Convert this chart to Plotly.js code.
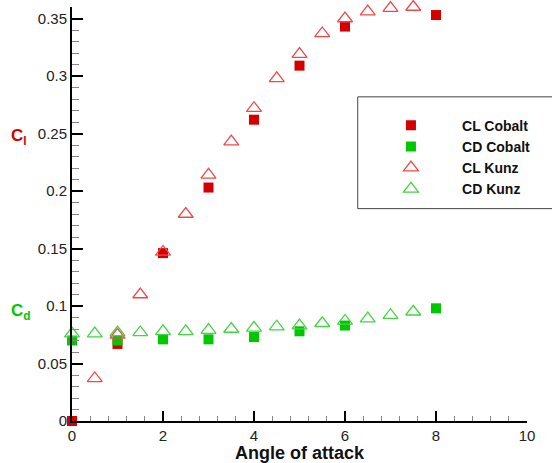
<!DOCTYPE html>
<html>
<head>
<meta charset="utf-8">
<script src="https://cdn.plot.ly/plotly-3.0.1.min.js"></script>
<style>html,body{margin:0;padding:0;background:#fff;}#chart{width:552px;height:463px;}</style>
</head>
<body>
<div id="chart"></div>
<script>
// Data
var clCobaltX = [0, 1, 2, 3, 4, 5, 6, 8];
var clCobaltY = [0, 0.067, 0.146, 0.203, 0.262, 0.309, 0.343, 0.353];
var cdCobaltX = [0, 1, 2, 3, 4, 5, 6, 8];
var cdCobaltY = [0.070, 0.070, 0.071, 0.071, 0.073, 0.078, 0.083, 0.098];
var clKunzX = [0.5, 1, 1.5, 2, 2.5, 3, 3.5, 4, 4.5, 5, 5.5, 6, 6.5, 7, 7.5];
var clKunzY = [0.037, 0.075, 0.110, 0.147, 0.180, 0.214, 0.243, 0.272, 0.298, 0.319, 0.337, 0.350, 0.356, 0.359, 0.360];
var cdKunzX = [0, 0.5, 1, 1.5, 2, 2.5, 3, 3.5, 4, 4.5, 5, 5.5, 6, 6.5, 7, 7.5];
var cdKunzY = [0.076, 0.076, 0.077, 0.077, 0.078, 0.078, 0.079, 0.080, 0.081, 0.082, 0.083, 0.085, 0.087, 0.089, 0.092, 0.095];
var seriesNames = ['CL Cobalt', 'CD Cobalt', 'CL Kunz', 'CD Kunz'];

var pad = '\u00A0\u00A0\u00A0\u00A0\u00A0\u00A0\u00A0\u00A0';
var traces = [
  {x: clCobaltX, y: clCobaltY, name: pad + seriesNames[0], mode: 'markers', type: 'scatter', cliponaxis: false,
   marker: {symbol: 'square', size: 10, color: '#d40000', line: {width: 0}}},
  {x: cdCobaltX, y: cdCobaltY, name: pad + seriesNames[1], mode: 'markers', type: 'scatter', cliponaxis: false,
   marker: {symbol: 'square', size: 10, color: '#00c800', line: {width: 0}}},
  {x: clKunzX, y: clKunzY, name: pad + seriesNames[2], mode: 'markers', type: 'scatter', cliponaxis: false,
   marker: {symbol: 'triangle-up-open', size: 13, color: '#ee4a4a', line: {width: 1.3}}},
  {x: cdKunzX, y: cdKunzY, name: pad + seriesNames[3], mode: 'markers', type: 'scatter', cliponaxis: false,
   marker: {symbol: 'triangle-up-open', size: 13, color: '#44d444', line: {width: 1.3}}}
];

var layout = {
  width: 552, height: 463,
  margin: {l: 72, r: 25, t: 7, b: 42},
  paper_bgcolor: '#fff', plot_bgcolor: '#fff',
  font: {family: 'Liberation Sans, Arial, sans-serif', size: 15, color: '#222'},
  showlegend: true,
  legend: {x: 0.701, y: 0.752, xanchor: 'left', yanchor: 'top', bgcolor: 'rgba(0,0,0,0)', borderwidth: 0,
           font: {family: 'Liberation Sans, Arial, sans-serif', size: 14, color: '#111', weight: 'bold'},
           tracegroupgap: 0, itemsizing: 'trace'},
  xaxis: {range: [0, 10], dtick: 2, tick0: 0, showgrid: false, zeroline: false,
          showline: true, linecolor: '#000', linewidth: 2,
          ticks: 'inside', ticklen: 10, tickwidth: 2, tickcolor: '#000',
          minor: {dtick: 0.4, ticks: 'inside', ticklen: 5, tickwidth: 1, tickcolor: '#888', showgrid: false},
          tickfont: {size: 15},
          title: {text: '<b>Angle of attack</b>', font: {size: 18, color: '#111'}, standoff: 3}},
  yaxis: {range: [0, 0.36], dtick: 0.05, tick0: 0, showgrid: false, zeroline: false,
          showline: true, linecolor: '#000', linewidth: 2,
          ticks: 'inside', ticklen: 11, tickwidth: 2, tickcolor: '#000',
          minor: {dtick: 0.01, ticks: 'inside', ticklen: 7, tickwidth: 1, tickcolor: '#888', showgrid: false},
          tickfont: {size: 15}},
  shapes: [
    {type: 'rect', xref: 'paper', yref: 'paper', x0: 0.628, x1: 1.1, y0: 0.513, y1: 0.783,
     line: {color: '#444', width: 1}, fillcolor: 'rgba(0,0,0,0)'}
  ],
  annotations: [
    {xref: 'paper', yref: 'paper', x: -0.138, y: 0.686, xanchor: 'left', yanchor: 'middle', showarrow: false,
     text: '<b>C<sub>l</sub></b>', font: {size: 17, color: '#d40000'}},
    {xref: 'paper', yref: 'paper', x: -0.138, y: 0.263, xanchor: 'left', yanchor: 'middle', showarrow: false,
     text: '<b>C<sub>d</sub></b>', font: {size: 17, color: '#00c800'}}
  ]
};

Plotly.newPlot('chart', traces, layout, {displayModeBar: false, staticPlot: true});
</script>
</body>
</html>
